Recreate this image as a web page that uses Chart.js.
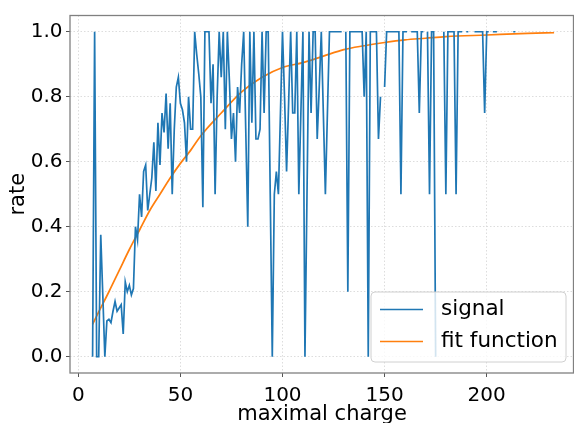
<!DOCTYPE html>
<html>
<head>
<meta charset="utf-8">
<script src="https://cdn.jsdelivr.net/npm/chart.js@4.4.0/dist/chart.umd.min.js"></script>
<style>
html, body { margin: 0; padding: 0; background: #fff; }
</style>
</head>
<body>
<canvas id="chart" width="574" height="423"></canvas>
<script>
// signal: one value per integer charge, starting at signalStart (null = no entry)
const signalStart = 7;
const signalRate = [
    0, 1.0, 0, 0, 0.375, 0.19, 0, 0.11, 0.115, 0.105,
    0.14, 0.17, 0.14, 0.15, 0.16, 0.07, 0.23, 0.2, 0.22, 0.19,
    0.21, 0.4, 0.36, 0.5, 0.43, 0.57, 0.59, 0.45, 0.5, 0.55,
    0.66, 0.51, 0.72, 0.59, 0.75, 0.69, 0.81, 0.64, 0.78, 0.5,
    0.7, 0.83, 0.86, 0.78, 0.76, 0.72, 0.6, 0.8, 0.7, 0.7,
    1.0, 0.93, 0.87, 0.8, 0.46, 1.0, 1.0, 1.0, 0.78, 0.9,
    0.5, 0.8, 1.0, 0.86, 1.0, 0.7, 1.0, 0.85, 0.67, 0.75,
    0.6, 0.83, 0.75, 0.9, 1.0, 0.7, 0.4, 1.0, 0.72, 1.0,
    0.67, 0.67, 0.7, 1.0, 0.75, 1.0, 1.0, 0.5, 0, 0.5,
    0.57, 0.5, 0.75, 1.0, 0.8, 0.57, 0.78, 1.0, 0.75, 0.75,
    1.0, 0.5, 0.75, 1.0, 0, 0.5, 1.0, 0.75, 1.0, 1.0,
    0.67, 0.83, 1.0, 0.75, 0.5, 0.75, 1.0, 1.0, 1.0, 1.0,
    1.0, 1.0, 1.0, null, 1.0, 0.2, 1.0, 1.0, 1.0, 1.0,
    1.0, 1.0, 1.0, 0.8, 1.0, 0, 1.0, 1.0, 1.0, 1.0,
    0.67, 0.8, null, 0.83, 1.0, 1.0, 1.0, 1.0, 1.0, 1.0,
    1.0, 0.5, 1.0, 1.0, 1.0, null, 1.0, 1.0, 1.0, 1.0,
    0.75, 1.0, 1.0, null, 1.0, 0.5, 1.0, 1.0, 0, null,
    null, null, 1.0, 0.5, 1.0, 1.0, 1.0, 1.0, 0.5, 1.0,
    1.0, 1.0, null, 1.0, 1.0, null, null, 1.0, 1.0, 1.0,
    1.0, 1.0, 0.75, 1.0, 1.0, null, 1.0, 1.0, 1.0, null,
    null, null, null, null, null, null, 1.0, 1.0, null, null
];

// fit function
const fitCharge = [7, 10, 15, 20, 25, 30, 35, 40, 45, 50, 55, 60, 70, 80, 90, 100, 110, 120, 130, 140, 150, 160, 170, 180, 200, 220, 233];
const fitRate = [0.10, 0.138, 0.2, 0.265, 0.33, 0.39, 0.45, 0.50, 0.55, 0.595, 0.635, 0.68, 0.75, 0.815, 0.86, 0.89, 0.905, 0.925, 0.945, 0.957, 0.967, 0.975, 0.98, 0.985, 0.99, 0.995, 0.997];

const xTicks = [0, 50, 100, 150, 200];
const yTicks = [0.0, 0.2, 0.4, 0.6, 0.8, 1.0];
const legendLabels = ['signal', 'fit function'];

const BLUE = '#1f77b4';
const ORANGE = '#ff7f0e';
const FONT = 'DejaVu Sans';

Chart.defaults.font.family = FONT;
Chart.defaults.color = '#000';

const signalPoints = signalRate.map((v, i) => ({ x: signalStart + i, y: v }));
const fitPoints = fitCharge.map((c, i) => ({ x: c, y: fitRate[i] }));

// full box around the plot, like matplotlib spines
const framePlugin = {
    id: 'frame',
    afterDatasetsDraw(chart) {
        const { ctx, chartArea: a } = chart;
        ctx.save();
        ctx.strokeStyle = '#808080';
        ctx.lineWidth = 1.3;
        ctx.strokeRect(a.left, a.top, a.right - a.left - 0.5, a.bottom - a.top);
        ctx.restore();
    }
};

// legend box in the lower right corner
const boxLegend = {
    id: 'boxLegend',
    afterDraw(chart) {
        const { ctx } = chart;
        const x = 371, y = 292, w = 195, h = 70;
        ctx.save();
        ctx.beginPath();
        ctx.roundRect(x, y, w, h, 4);
        ctx.fillStyle = 'rgba(255,255,255,0.8)';
        ctx.fill();
        ctx.strokeStyle = '#d0d0d0';
        ctx.lineWidth = 1;
        ctx.stroke();

        const colors = [BLUE, ORANGE];
        const rows = [309.5, 341.5];
        ctx.font = '21.5px "' + FONT + '"';
        ctx.textBaseline = 'middle';
        ctx.textAlign = 'left';
        legendLabels.forEach((label, i) => {
            ctx.beginPath();
            ctx.strokeStyle = colors[i];
            ctx.lineWidth = 1.7;
            ctx.moveTo(380, rows[i]);
            ctx.lineTo(423, rows[i]);
            ctx.stroke();
            ctx.fillStyle = '#000';
            ctx.fillText(label, 441, rows[i]);
        });
        ctx.restore();
    }
};

const ctx = document.getElementById('chart').getContext('2d');
new Chart(ctx, {
    type: 'line',
    data: {
        datasets: [
            {
                label: legendLabels[0],
                data: signalPoints,
                borderColor: BLUE,
                borderWidth: 1.7,
                pointRadius: 0,
                tension: 0,
                spanGaps: false
            },
            {
                label: legendLabels[1],
                data: fitPoints,
                borderColor: ORANGE,
                borderWidth: 1.7,
                pointRadius: 0,
                cubicInterpolationMode: 'monotone'
            }
        ]
    },
    options: {
        responsive: false,
        animation: false,
        layout: { padding: { top: 7, right: 0, left: 0, bottom: 0 } },
        plugins: {
            legend: { display: false },
            tooltip: { enabled: false }
        },
        scales: {
            x: {
                type: 'linear',
                min: -4.06,
                max: 242.75,
                afterBuildTicks: (s) => { s.ticks = xTicks.map(v => ({ value: v })); },
                afterFit: (s) => { s.height = 50; },
                ticks: {
                    font: { size: 20 },
                    padding: 7,
                    maxRotation: 0,
                    callback: (v) => String(v)
                },
                grid: {
                    color: '#d4d4d4',
                    lineWidth: 0.8,
                    tickColor: '#555',
                    tickLength: 4,
                    tickWidth: 1
                },
                border: { display: false, dash: [1.5, 2] },
                title: {
                    display: true,
                    text: 'maximal charge',
                    font: { size: 21, lineHeight: 1 },
                    padding: { top: 0, bottom: -2 }
                }
            },
            y: {
                min: -0.05,
                max: 1.05,
                afterBuildTicks: (s) => { s.ticks = yTicks.map(v => ({ value: v })); },
                afterFit: (s) => { s.width = 70; },
                ticks: {
                    font: { size: 20 },
                    padding: 3.5,
                    callback: (v) => v.toFixed(1)
                },
                grid: {
                    color: '#d4d4d4',
                    lineWidth: 0.8,
                    tickColor: '#555',
                    tickLength: 4,
                    tickWidth: 1
                },
                border: { display: false, dash: [1.5, 2] },
                title: {
                    display: true,
                    text: 'rate',
                    font: { size: 21, lineHeight: 1 },
                    padding: { top: 8, bottom: 0 }
                }
            }
        }
    },
    plugins: [framePlugin, boxLegend]
});
</script>
</body>
</html>
